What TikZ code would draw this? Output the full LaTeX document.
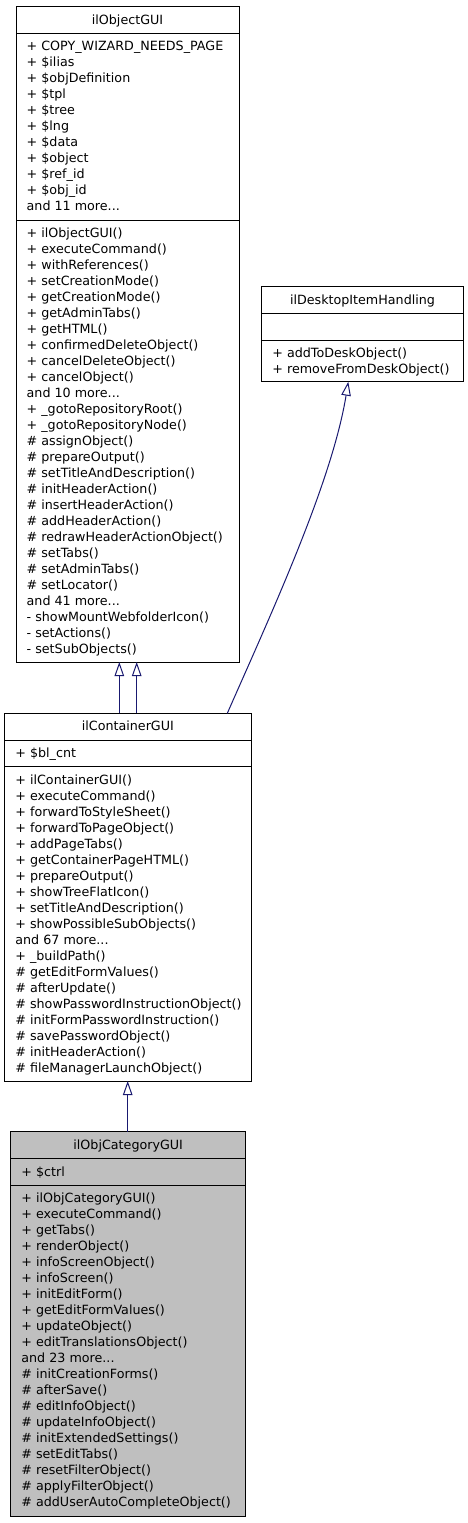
\documentclass[tikz,border=0pt]{standalone}
\usepackage{fontspec}
\setmainfont{DejaVu Sans}
\usetikzlibrary{arrows.meta}
\definecolor{edgeblue}{HTML}{191970}
\definecolor{catgray}{HTML}{BFBFBF}
\newcommand\threedots{...}
\tikzset{
  umlbox/.style={draw=black, line width=1pt, anchor=north west, inner sep=0pt, outer sep=0pt},
  row/.style={anchor=base west, inner sep=0pt, font=\fontsize{12.7}{16}\selectfont},
  ttl/.style={anchor=base, inner sep=0pt, font=\fontsize{12.7}{16}\selectfont},
  sepline/.style={draw=black, line width=1pt},
  inh/.style={draw=edgeblue, line width=1pt, -{Triangle[open, length=14pt, width=9.5pt]}}
}
\begin{document}
\begin{tikzpicture}[x=1pt, y=-1pt]
\useasboundingbox (0,0) rectangle (468,1523);

% ---------- ilObjectGUI ----------
\node[umlbox, minimum width=223pt, minimum height=655.3pt] (obj) at (16,6.7) {};
\draw[sepline] ([yshift=-26.6pt]obj.north west) -- ([yshift=-26.6pt]obj.north east);
\draw[sepline] ([yshift=-213.3pt]obj.north west) -- ([yshift=-213.3pt]obj.north east);
\node[ttl] (objT) at (127.5,24.3) {ilObjectGUI};
\foreach \t [count=\i from 0] in {+ COPY\_WIZARD\_NEEDS\_PAGE, + \$ilias, + \$objDefinition, + \$tpl, + \$tree, + \$lng, + \$data, + \$object, + \$ref\_id, + \$obj\_id, and 11 more\threedots}
  \node[row] (objA\i) at (26.5,{33.3+17.6+16*\i}) {\t};
\foreach \t [count=\i from 0] in {+ ilObjectGUI(), + executeCommand(), + withReferences(), + setCreationMode(), + getCreationMode(), + getAdminTabs(), + getHTML(), + confirmedDeleteObject(), + cancelDeleteObject(), + cancelObject(), and 10 more\threedots, + \_gotoRepositoryRoot(), + \_gotoRepositoryNode(), \# assignObject(), \# prepareOutput(), \# setTitleAndDescription(), \# initHeaderAction(), \# insertHeaderAction(), \# addHeaderAction(), \# redrawHeaderActionObject(), \# setTabs(), \# setAdminTabs(), \# setLocator(), and 41 more\threedots, - showMountWebfolderIcon(), - setActions(), - setSubObjects()}
  \node[row] (objM\i) at (26.5,{220+17.6+16*\i}) {\t};

% ---------- ilDesktopItemHandling ----------
\node[umlbox, minimum width=201.6pt, minimum height=95pt] (desk) at (261.7,286.7) {};
\draw[sepline] ([yshift=-26.6pt]desk.north west) -- ([yshift=-26.6pt]desk.north east);
\draw[sepline] ([yshift=-53.3pt]desk.north west) -- ([yshift=-53.3pt]desk.north east);
\node[ttl] (deskT) at (362.5,304.3) {ilDesktopItemHandling};
\foreach \t [count=\i from 0] in {+ addToDeskObject(), + removeFromDeskObject()}
  \node[row] (deskM\i) at (272.2,{340+17.6+16*\i}) {\t};

% ---------- ilContainerGUI ----------
\node[umlbox, minimum width=246.3pt, minimum height=367.7pt] (cont) at (4.7,713.3) {};
\draw[sepline] ([yshift=-26.7pt]cont.north west) -- ([yshift=-26.7pt]cont.north east);
\draw[sepline] ([yshift=-53.4pt]cont.north west) -- ([yshift=-53.4pt]cont.north east);
\node[ttl] (contT) at (127.85,730.9) {ilContainerGUI};
\node[row] (contA0) at (15.2,757.6) {+ \$bl\_cnt};
\foreach \t [count=\i from 0] in {+ ilContainerGUI(), + executeCommand(), + forwardToStyleSheet(), + forwardToPageObject(), + addPageTabs(), + getContainerPageHTML(), + prepareOutput(), + showTreeFlatIcon(), + setTitleAndDescription(), + showPossibleSubObjects(), and 67 more\threedots, + \_buildPath(), \# getEditFormValues(), \# afterUpdate(), \# showPasswordInstructionObject(), \# initFormPasswordInstruction(), \# savePasswordObject(), \# initHeaderAction(), \# fileManagerLaunchObject()}
  \node[row] (contM\i) at (15.2,{766.7+17.6+16*\i}) {\t};

% ---------- ilObjCategoryGUI ----------
\node[umlbox, fill=catgray, minimum width=235pt, minimum height=384.7pt] (cat) at (10.7,1131.7) {};
\draw[sepline] ([yshift=-26.7pt]cat.north west) -- ([yshift=-26.7pt]cat.north east);
\draw[sepline] ([yshift=-53.4pt]cat.north west) -- ([yshift=-53.4pt]cat.north east);
\node[ttl] (catT) at (128.2,1149.3) {ilObjCategoryGUI};
\node[row] (catA0) at (21.2,1176) {+ \$ctrl};
\foreach \t [count=\i from 0] in {+ ilObjCategoryGUI(), + executeCommand(), + getTabs(), + renderObject(), + infoScreenObject(), + infoScreen(), + initEditForm(), + getEditFormValues(), + updateObject(), + editTranslationsObject(), and 23 more\threedots, \# initCreationForms(), \# afterSave(), \# editInfoObject(), \# updateInfoObject(), \# initExtendedSettings(), \# setEditTabs(), \# resetFilterObject(), \# applyFilterObject(), \# addUserAutoCompleteObject()}
  \node[row] (catM\i) at (21.2,{1185.1+17.6+16*\i}) {\t};

% ---------- inheritance connectors ----------
\draw[inh] ([xshift=114.6pt]cont.north west) -- ([xshift=103.3pt]obj.south west);
\draw[inh] ([xshift=132pt]cont.north west) -- ([xshift=120.7pt]obj.south west);
\draw[inh] ([xshift=222.6pt]cont.north west) .. controls (271.3,613.3) and (332,482) .. ([xshift=86.6pt]desk.south west);
\draw[inh] ([xshift=117pt]cat.north west) -- ([xshift=123pt]cont.south west);
\end{tikzpicture}
\end{document}
